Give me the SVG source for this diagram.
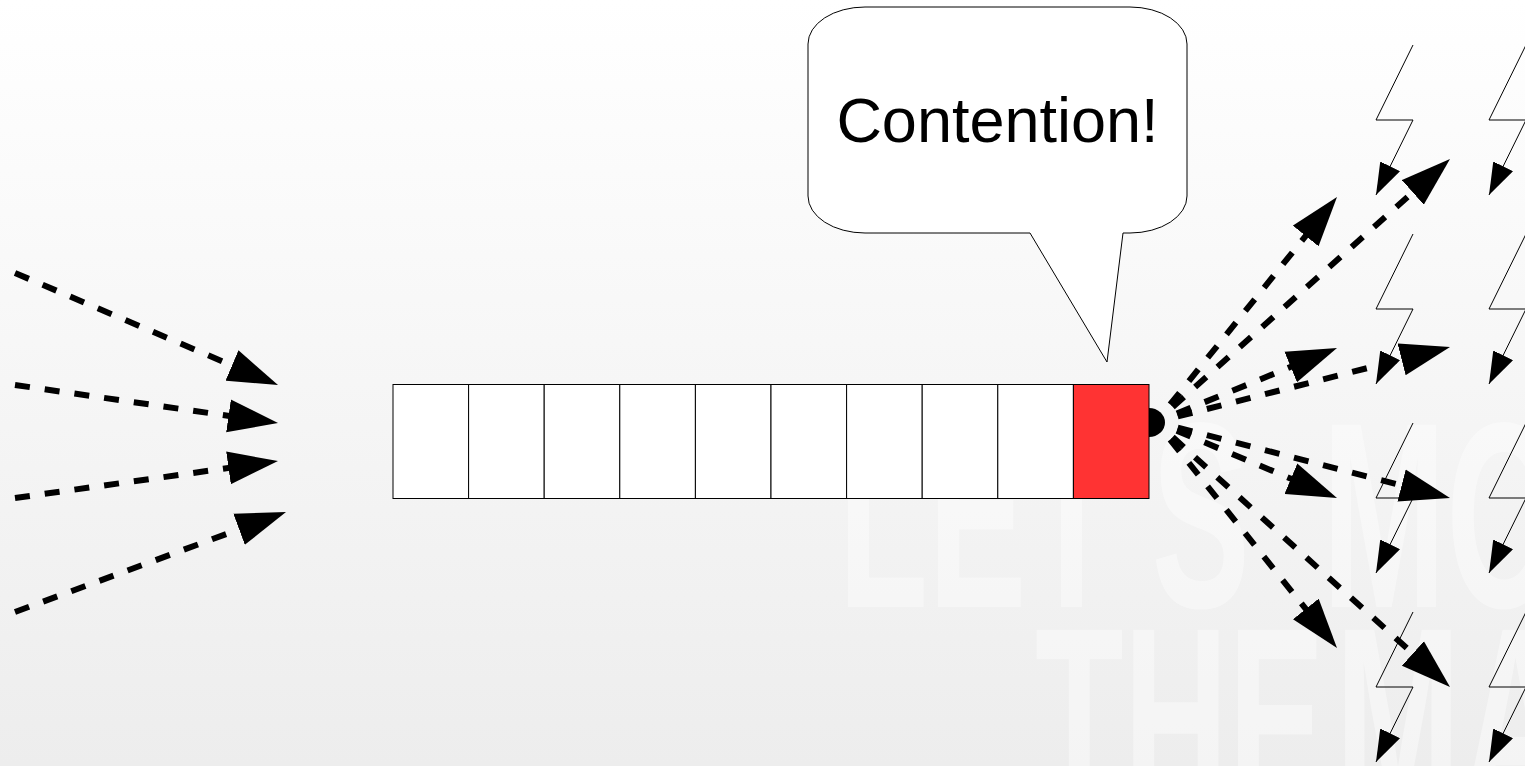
<svg xmlns="http://www.w3.org/2000/svg" width="1525" height="766" viewBox="0 0 1525 766">
  <defs>
    <linearGradient id="bg" x1="0" y1="0" x2="0" y2="1">
      <stop offset="0" stop-color="#ffffff"/>
      <stop offset="1" stop-color="#ededed"/>
    </linearGradient>
    <marker id="ah" markerUnits="userSpaceOnUse" markerWidth="50" markerHeight="34" viewBox="0 0 50 34" refX="10" refY="17" orient="auto">
      <path d="M0,0.5 L50,17 L0,33.5 Z" fill="#000"/>
    </marker>
    <marker id="ahs" markerUnits="userSpaceOnUse" markerWidth="32" markerHeight="22" viewBox="0 0 32 22" refX="32" refY="11" orient="auto">
      <path d="M0,0 L32,11 L0,22 Z" fill="#000"/>
    </marker>
    <style>
      .wm { font-family: "Liberation Sans", Arial, sans-serif; font-weight: bold; font-size: 265px; fill: #ffffff; fill-opacity: 0.4; }
      .cell { fill: #ffffff; stroke: #000; stroke-width: 1; }
      .hot { fill: #ff3333; stroke: #000; stroke-width: 1; }
      .dl { fill: none; stroke: #000; stroke-width: 6; stroke-dasharray: 15 15; marker-end: url(#ah); }
      .dr { fill: none; stroke: #000; stroke-width: 6; stroke-dasharray: 15 15; stroke-dashoffset: 7.5; marker-end: url(#ah); }
      .bolt { fill: none; stroke: #000; stroke-width: 1; marker-end: url(#ahs); }
      .callout { fill: #ffffff; stroke: #000; stroke-width: 1; }
      .label { font-family: "Liberation Sans", Arial, sans-serif; font-size: 63px; fill: #000; }
    </style>
  </defs>

  <rect x="0" y="0" width="1525" height="766" fill="url(#bg)"/>

  <g id="watermark">
    <text class="wm" x="838" y="607" textLength="412" lengthAdjust="spacingAndGlyphs">LET'S</text>
    <text class="wm" x="1322" y="607" textLength="240" lengthAdjust="spacingAndGlyphs">MO</text>
    <text class="wm" x="1035" y="812" textLength="290" lengthAdjust="spacingAndGlyphs">THE</text>
    <text class="wm" x="1335" y="812" textLength="235" lengthAdjust="spacingAndGlyphs">MA</text>
  </g>

  <g id="queue">
    <rect class="cell" x="393" y="384.5" width="75.6" height="114"/>
    <rect class="cell" x="468.6" y="384.5" width="75.6" height="114"/>
    <rect class="cell" x="544.2" y="384.5" width="75.6" height="114"/>
    <rect class="cell" x="619.8" y="384.5" width="75.6" height="114"/>
    <rect class="cell" x="695.4" y="384.5" width="75.6" height="114"/>
    <rect class="cell" x="771" y="384.5" width="75.6" height="114"/>
    <rect class="cell" x="846.6" y="384.5" width="75.6" height="114"/>
    <rect class="cell" x="922.2" y="384.5" width="75.6" height="114"/>
    <rect class="cell" x="997.8" y="384.5" width="75.6" height="114"/>
    <rect id="hot-cell" class="hot" x="1073.4" y="384.5" width="75.6" height="114"/>
  </g>

  <g id="callout">
    <path class="callout" d="M865,7 L1130,7 A57 37 0 0 1 1187,44 L1187,196 A57 37 0 0 1 1130,233 L1123,233 L1107,362 L1030,233 L865,233 A57 37 0 0 1 808,196 L808,44 A57 37 0 0 1 865,7 Z"/>
    <text class="label" x="997.5" y="142" text-anchor="middle">Contention!</text>
  </g>

  <g id="bolts">
    <path class="bolt" d="M1413,45 L1376,120 L1413,120 L1376,195"/>
    <path class="bolt" d="M1413,234 L1376,309 L1413,309 L1376,384"/>
    <path class="bolt" d="M1413,423 L1376,498 L1413,498 L1376,573"/>
    <path class="bolt" d="M1413,612 L1376,687 L1413,687 L1376,762"/>
    <path class="bolt" d="M1526,45 L1489,120 L1526,120 L1489,195"/>
    <path class="bolt" d="M1526,234 L1489,309 L1526,309 L1489,384"/>
    <path class="bolt" d="M1526,423 L1489,498 L1526,498 L1489,573"/>
    <path class="bolt" d="M1526,612 L1489,687 L1526,687 L1489,762"/>
  </g>

  <g id="connectors">
    <path class="dl" d="M15,273 L241.2,369.33"/>
    <path class="dl" d="M15,385 L238.41,417.28"/>
    <path class="dl" d="M15,498 L238.39,466.57"/>
    <path class="dl" d="M15,612 L248.47,525.85"/>

    <path d="M1149,408 A16 14.5 0 0 1 1149,437 Z" fill="#000"/>
    <path class="dr" d="M1156,422 L1311.93,228.17"/>
    <path class="dr" d="M1156,422 L1420.19,185.67"/>
    <path class="dr" d="M1156,422 L1299.97,363.14"/>
    <path class="dr" d="M1156,422 L1411.24,356.89"/>
    <path class="dr" d="M1156,422 L1300.12,482.51"/>
    <path class="dr" d="M1156,422 L1411.27,487.99"/>
    <path class="dr" d="M1156,422 L1312,616.78"/>
    <path class="dr" d="M1156,422 L1420.29,660.22"/>
  </g>
</svg>
